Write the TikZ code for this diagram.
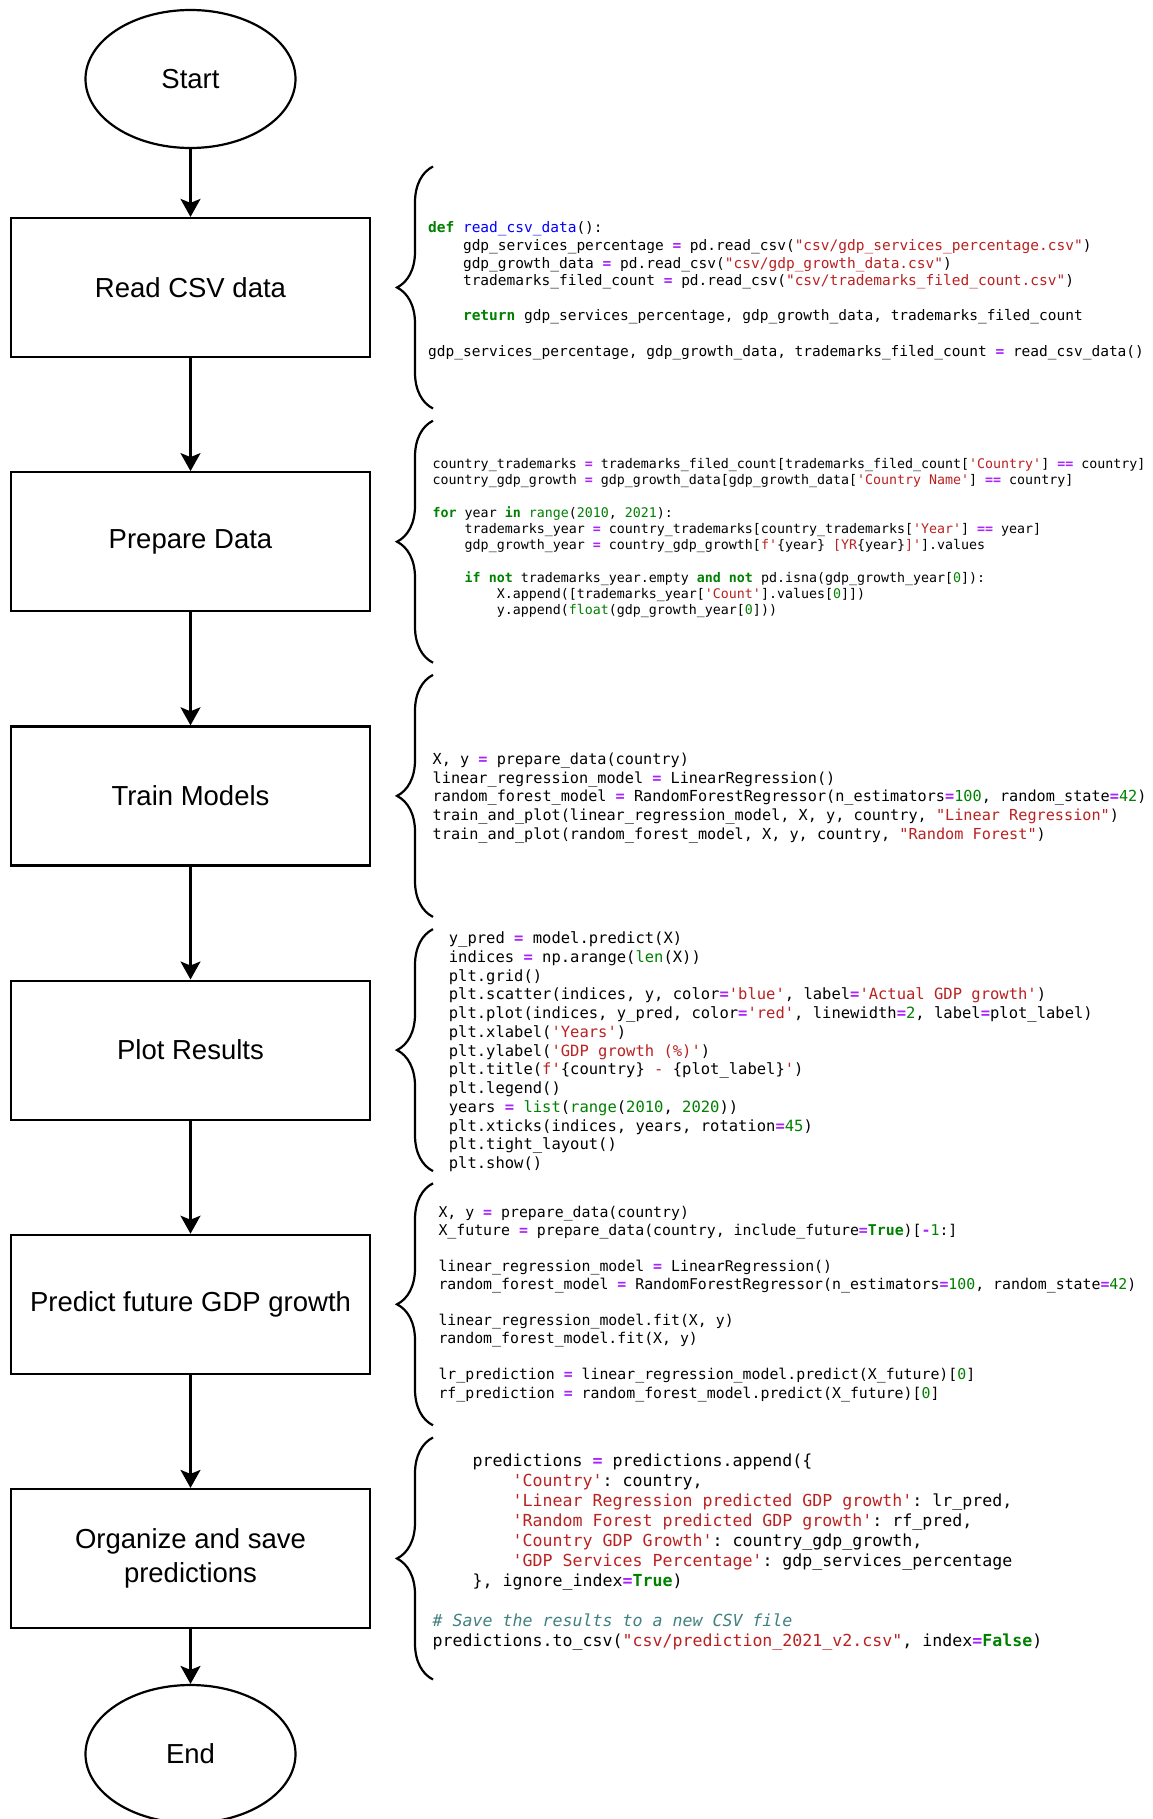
\documentclass[tikz,border=0pt]{standalone}
\usepackage{fontspec}
\setmonofont{DejaVu Sans Mono}
\newfontfamily\flowfont{Liberation Sans}
\usetikzlibrary{arrows.meta,shapes.geometric,decorations.pathreplacing}

\definecolor{kwgreen}{HTML}{008000}
\definecolor{strred}{HTML}{BA2121}
\definecolor{oppurple}{HTML}{AA22FF}
\definecolor{fnblue}{HTML}{0000FF}
\definecolor{cmteal}{HTML}{408080}

\newcommand\ckw[1]{\textcolor{kwgreen}{\textbf{#1}}}
\newcommand\cnum[1]{\textcolor{kwgreen}{#1}}
\newcommand\cstr[1]{\textcolor{strred}{#1}}
\newcommand\cop[1]{\textcolor{oppurple}{\textbf{#1}}}
\newcommand\cfn[1]{\textcolor{fnblue}{#1}}
\newcommand\ccm[1]{\textcolor{cmteal}{\textit{#1}}}
\newcommand\tb{\phantom{0000}}

\tikzset{every picture/.style={line width=1.1pt}}
\tikzset{
  terminal/.style={draw, ellipse, inner sep=0pt, minimum width=105pt, minimum height=69pt, font={\flowfont\fontsize{13.75}{17}\selectfont}},
  process/.style={draw, rectangle, inner sep=0pt, minimum width=179.5pt, minimum height=69.5pt, align=center, font={\flowfont\fontsize{13.75}{17}\selectfont}},
  flowarrow/.style={-{Stealth[length=9pt,width=10pt,inset=2pt]}},
  codebrace/.style={decorate, decoration={brace, amplitude=18pt}},
  codetext/.style={anchor=base west, inner sep=0pt}
}

\begin{document}
\begin{tikzpicture}[x=0.5pt,y=0.5pt,yscale=-1,xscale=1]
\path[fill=white, use as bounding box] (0,0) rectangle (1152,1819);

% Text Node
\node[terminal] (start) at (190.5,79) {Start};
% Text Node
\node[process] (read) at (190.5,287.5) {Read CSV data};
% Text Node
\node[process] (prepare) at (190.5,541.7) {Prepare Data};
% Text Node
\node[process] (train) at (190.5,795.9) {Train Models};
% Text Node
\node[process] (plot) at (190.5,1050.1) {Plot Results};
% Text Node
\node[process] (predict) at (190.5,1304.3) {Predict future GDP growth};
% Text Node
\node[process] (save) at (190.5,1558.5) {Organize and save\\predictions};
% Text Node
\node[terminal] (end) at (190.5,1754) {End};

% Connection
\draw[flowarrow] (start) -- (read);
% Connection
\draw[flowarrow] (read) -- (prepare);
% Connection
\draw[flowarrow] (prepare) -- (train);
% Connection
\draw[flowarrow] (train) -- (plot);
% Connection
\draw[flowarrow] (plot) -- (predict);
% Connection
\draw[flowarrow] (predict) -- (save);
% Connection
\draw[flowarrow] (save) -- (end);

% Braces
\draw[codebrace] (433,408.5) -- (433,166.5);
\draw[codebrace] (433,662.7) -- (433,420.7);
\draw[codebrace] (433,916.9) -- (433,674.9);
\draw[codebrace] (433,1171.1) -- (433,929.1);
\draw[codebrace] (433,1425.3) -- (433,1183.3);
\draw[codebrace] (433,1679.5) -- (433,1437.5);

% Text Node
\node[codetext, font={\ttfamily\fontsize{7.25}{8.8}\selectfont}] (readcode) at (427,233) {\begin{tabular}[t]{@{}l@{}}
\ckw{def} \cfn{read\_csv\_data}():\\
\tb gdp\_services\_percentage \cop{=} pd.read\_csv(\cstr{"csv/gdp\_services\_percentage.csv"})\\
\tb gdp\_growth\_data \cop{=} pd.read\_csv(\cstr{"csv/gdp\_growth\_data.csv"})\\
\tb trademarks\_filed\_count \cop{=} pd.read\_csv(\cstr{"csv/trademarks\_filed\_count.csv"})\\
\\
\tb \ckw{return} gdp\_services\_percentage, gdp\_growth\_data, trademarks\_filed\_count\\
\\
gdp\_services\_percentage, gdp\_growth\_data, trademarks\_filed\_count \cop{=} read\_csv\_data()
\end{tabular}};
% Text Node
\node[codetext, font={\ttfamily\fontsize{6.65}{8.12}\selectfont}] (preparecode) at (431.6,468.5) {\begin{tabular}[t]{@{}l@{}}
country\_trademarks \cop{=} trademarks\_filed\_count[trademarks\_filed\_count[\cstr{'Country'}] \cop{==} country]\\
country\_gdp\_growth \cop{=} gdp\_growth\_data[gdp\_growth\_data[\cstr{'Country Name'}] \cop{==} country]\\
\\
\ckw{for} year \ckw{in} \cnum{range}(\cnum{2010}, \cnum{2021}):\\
\tb trademarks\_year \cop{=} country\_trademarks[country\_trademarks[\cstr{'Year'}] \cop{==} year]\\
\tb gdp\_growth\_year \cop{=} country\_gdp\_growth[\cstr{f'}\{year\} \cstr{[YR}\{year\}\cstr{]'}].values\\
\\
\tb \ckw{if} \ckw{not} trademarks\_year.empty \ckw{and} \ckw{not} pd.isna(gdp\_growth\_year[\cnum{0}]):\\
\tb\tb X.append([trademarks\_year[\cstr{'Count'}].values[\cnum{0}]])\\
\tb\tb y.append(\cnum{float}(gdp\_growth\_year[\cnum{0}]))
\end{tabular}};
% Text Node
\node[codetext, font={\ttfamily\fontsize{7.6}{9.28}\selectfont}] (traincode) at (431.6,764.8) {\begin{tabular}[t]{@{}l@{}}
X, y \cop{=} prepare\_data(country)\\
linear\_regression\_model \cop{=} LinearRegression()\\
random\_forest\_model \cop{=} RandomForestRegressor(n\_estimators\cop{=}\cnum{100}, random\_state\cop{=}\cnum{42})\\
train\_and\_plot(linear\_regression\_model, X, y, country, \cstr{"Linear Regression"})\\
train\_and\_plot(random\_forest\_model, X, y, country, \cstr{"Random Forest"})
\end{tabular}};
% Text Node
\node[codetext, font={\ttfamily\fontsize{7.75}{9.375}\selectfont}] (plotcode) at (447.8,943.6) {\begin{tabular}[t]{@{}l@{}}
y\_pred \cop{=} model.predict(X)\\
indices \cop{=} np.arange(\cnum{len}(X))\\
plt.grid()\\
plt.scatter(indices, y, color\cop{=}\cstr{'blue'}, label\cop{=}\cstr{'Actual GDP growth'})\\
plt.plot(indices, y\_pred, color\cop{=}\cstr{'red'}, linewidth\cop{=}\cnum{2}, label\cop{=}plot\_label)\\
plt.xlabel(\cstr{'Years'})\\
plt.ylabel(\cstr{'GDP growth (\%)'})\\
plt.title(\cstr{f'}\{country\} \cstr{-} \{plot\_label\}\cstr{'})\\
plt.legend()\\
years \cop{=} \cnum{list}(\cnum{range}(\cnum{2010}, \cnum{2020}))\\
plt.xticks(indices, years, rotation\cop{=}\cnum{45})\\
plt.tight\_layout()\\
plt.show()
\end{tabular}};
% Text Node
\node[codetext, font={\ttfamily\fontsize{7.43}{9.05}\selectfont}] (predictcode) at (437.4,1217) {\begin{tabular}[t]{@{}l@{}}
X, y \cop{=} prepare\_data(country)\\
X\_future \cop{=} prepare\_data(country, include\_future\cop{=}\ckw{True})[\cop{-}\cnum{1}:]\\
\\
linear\_regression\_model \cop{=} LinearRegression()\\
random\_forest\_model \cop{=} RandomForestRegressor(n\_estimators\cop{=}\cnum{100}, random\_state\cop{=}\cnum{42})\\
\\
linear\_regression\_model.fit(X, y)\\
random\_forest\_model.fit(X, y)\\
\\
lr\_prediction \cop{=} linear\_regression\_model.predict(X\_future)[\cnum{0}]\\
rf\_prediction \cop{=} random\_forest\_model.predict(X\_future)[\cnum{0}]
\end{tabular}};
% Text Node
\node[codetext, font={\ttfamily\fontsize{8.3}{10.05}\selectfont}] (savecode) at (431.6,1466) {\begin{tabular}[t]{@{}l@{}}
\tb predictions \cop{=} predictions.append(\{\\
\tb\tb \cstr{'Country'}: country,\\
\tb\tb \cstr{'Linear Regression predicted GDP growth'}: lr\_pred,\\
\tb\tb \cstr{'Random Forest predicted GDP growth'}: rf\_pred,\\
\tb\tb \cstr{'Country GDP Growth'}: country\_gdp\_growth,\\
\tb\tb \cstr{'GDP Services Percentage'}: gdp\_services\_percentage\\
\tb \}, ignore\_index\cop{=}\ckw{True})\\
\\
\ccm{\# Save the results to a new CSV file}\\
predictions.to\_csv(\cstr{"csv/prediction\_2021\_v2.csv"}, index\cop{=}\ckw{False})
\end{tabular}};

\end{tikzpicture}
\end{document}
